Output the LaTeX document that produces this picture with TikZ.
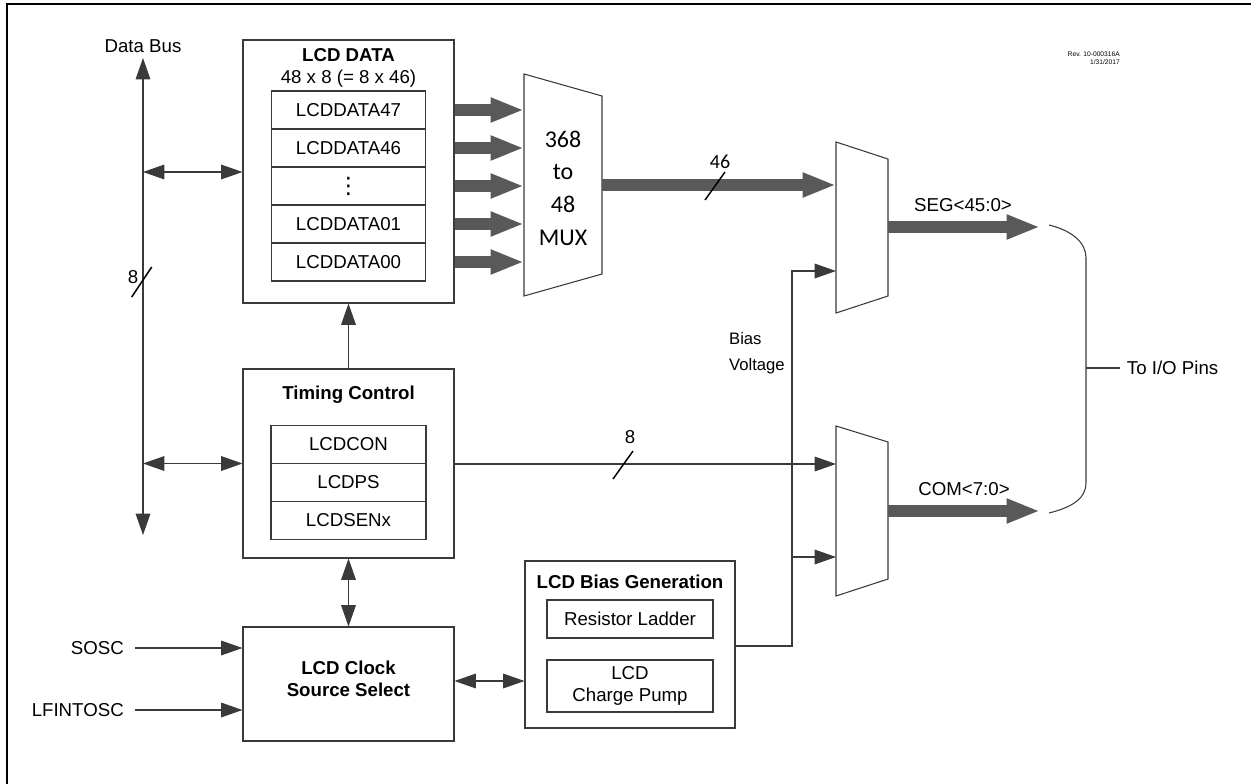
\documentclass[tikz,border=0pt]{standalone}
\usepackage{fontspec}
\setmainfont{Liberation Sans}
\newfontfamily\calibri{Carlito}
\newfontfamily\dejavu{DejaVu Sans}
\usetikzlibrary{arrows.meta}
\definecolor{fatgray}{HTML}{595959}
\definecolor{linegray}{HTML}{3A3A3A}
\begin{document}
\begin{tikzpicture}[x=0.75pt,y=-0.75pt,
  font=\fontsize{14}{16.5}\selectfont,
  >={Triangle[length=16pt,width=11pt]},
  box/.style={draw=linegray, line width=0.8pt, inner sep=0pt},
  regbox/.style={box, minimum width=115.5pt, minimum height=28.5pt},
  treg/.style={box, minimum width=116.25pt, minimum height=28.5pt},
  conn/.style={draw=linegray, line width=0.8pt},
  fat/.style={draw=fatgray, line width=9pt, -{Triangle[length=25pt,width=17pt]}},
  slash/.style={draw=black, line width=1.1pt},
  lbl/.style={inner sep=0pt},
  title/.style={inner sep=0pt, font=\fontsize{14}{16.5}\selectfont\bfseries}]

\useasboundingbox (0,0) rectangle (1251,784);
% frame
\draw[line width=1.5pt] (7,784) -- (7,4) -- (1251,4);

% revision
\node[lbl, align=right, anchor=east, font=\fontsize{5}{6}\selectfont] (rev) at (1120,58) {Rev. 10-000316A\\1/31/2017};

% data bus
\coordinate (dbt) at (143,58);
\coordinate (dbb) at (143,535);
\node[lbl] (dblabel) at (143,46) {Data Bus};
\draw[conn,<->] (dbt) -- (dbb);
\draw[slash] (151.7,267) -- (131.7,297);
\node[lbl] (db8) at (133,277) {8};

% LCD DATA
\node[box, minimum width=158.25pt, minimum height=197.25pt] (lcddata) at (348.5,171.5) {};
\node[title] (lcddatat) at (348.5,55) {LCD DATA};
\node[lbl] (lcddatas) at (348.5,79) {48 x 8 (= 8 x 46)};
\node[regbox] (r47) at (348.5,110) {LCDDATA47};
\node[regbox] (r46) at (348.5,148) {LCDDATA46};
\node[regbox, font=\dejavu\fontsize{17}{17}\selectfont] (rdots) at (348.5,186) {⋮};
\node[regbox] (r01) at (348.5,224) {LCDDATA01};
\node[regbox] (r00) at (348.5,262) {LCDDATA00};

% 368 to 48 MUX
\draw[box] (524,74) -- (602,96) -- (602,274) -- (524,296) -- cycle;
\coordinate (m1l) at (524,185);
\coordinate (m1r) at (602,185);
\node[lbl, align=center, font=\calibri\fontsize{18}{24.5}\selectfont] (mux1) at (563,188) {368\\to\\48\\MUX};
\foreach \r in {r47,r46,rdots,r01,r00}
  \draw[fat] (lcddata.east |- \r) -- (m1l |- \r);

% SEG mux
\draw[box] (836,142) -- (888,159) -- (888,296) -- (836,313) -- cycle;
\coordinate (sin1) at (836,185);
\coordinate (sin2) at (836,271);
\coordinate (sout) at (888,227);
% COM mux
\draw[box] (836,426) -- (888,442) -- (888,579) -- (836,596) -- cycle;
\coordinate (cin1) at (836,464);
\coordinate (cin2) at (836,557);
\coordinate (cout) at (888,511);

% 46 bus
\draw[fat] (m1r) -- (sin1);
\draw[slash] (725,172) -- (705,200);
\node[lbl, font=\calibri\fontsize{15}{18}\selectfont] (b46) at (720,162) {46};

% outputs
\coordinate (segend) at (1040,227);
\coordinate (comend) at (1040,511);
\draw[fat] (sout) -- (segend);
\draw[fat] (cout) -- (comend);
\node[lbl] (seglbl) at (963,205) {SEG<45:0>};
\node[lbl] (comlbl) at (964,489) {COM<7:0>};

% bracket
\coordinate (brk) at (1086,368);
\draw[conn] (1049,225) .. controls (1073,231) and (1086,243) .. (1086,258) -- (1086,483) .. controls (1086,498) and (1073,507) .. (1049,513);
\node[lbl, anchor=west, inner xsep=5pt] (tio) at (1120,368) {To I/O Pins};
\draw[conn] (brk) -- (tio.west);

% Timing control
\node[box, minimum width=158.25pt, minimum height=141.75pt] (timing) at (348.5,463.5) {};
\node[title] (timingt) at (348.5,395) {Timing Control};
\node[treg] (lcdcon) at (348.5,444.5) {LCDCON};
\node[treg] (lcdps) at (348.5,482.5) {LCDPS};
\node[treg] (lcdsen) at (348.5,520.5) {LCDSENx};

% bias generation
\node[box, minimum width=157.5pt, minimum height=125.25pt] (bias) at (630,644.5) {};
\node[title] (biast) at (630,582) {LCD Bias Generation};
\node[box, minimum width=124.5pt, minimum height=28.5pt] (ladder) at (630,619) {Resistor Ladder};
\node[box, minimum width=124.5pt, minimum height=39pt, align=center] (pump) at (630,686) {LCD\\Charge Pump};

% clock source select
\node[box, minimum width=158.25pt, minimum height=85.5pt] (clock) at (348.5,684) {};
\node[title, align=center] (clockt) at (348.5,679) {LCD Clock\\Source Select};

% inputs
\node[lbl, anchor=east, inner xsep=8.25pt] (sosc) at (135,648) {SOSC};
\node[lbl, anchor=east, inner xsep=8.25pt] (lfint) at (135,710) {LFINTOSC};
\draw[conn,->] (sosc) -- (clock.west |- sosc);
\draw[conn,->] (lfint) -- (clock.west |- lfint);

% bus connections
\draw[conn,<->] (dbt |- 0,172) -- (lcddata.west |- 0,172);
\draw[conn,<->] (dbt |- timing.west) -- (timing.west);
\draw[conn,->] (timing.north) -- (lcddata.south);
\draw[conn,<->] (timing.south) -- (clock.north);
\draw[conn,<->] (clock.east |- 0,681) -- (bias.west |- 0,681);

% timing to COM mux
\draw[conn,->] (timing.east |- cin1) -- (cin1);
\draw[slash] (633,451) -- (613,479);
\node[lbl] (t8) at (630,437) {8};

% bias voltage
\coordinate (bj) at (792,646);
\coordinate (bt) at (792,271);
\draw[conn,->] (bias.east |- bj) -- (bj) -- (bt) -- (sin2);
\draw[conn,->] (bj |- cin2) -- (cin2);
\node[lbl, align=left, anchor=east, font=\fontsize{12.5}{19.5}\selectfont] (bvl) at (785,353) {Bias\\Voltage};
\end{tikzpicture}
\end{document}
